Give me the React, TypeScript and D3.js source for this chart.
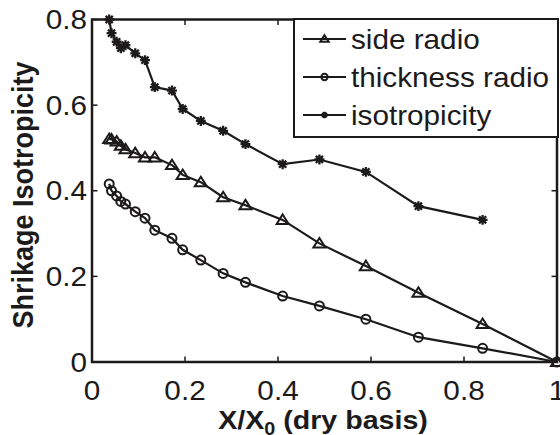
import React from "react";
import * as d3 from "d3";

const xValues = [0.037, 0.042, 0.053, 0.062, 0.072, 0.093, 0.114, 0.135, 0.172, 0.195, 0.234, 0.282, 0.33, 0.41, 0.489, 0.589, 0.702, 0.84, 1.0];
const sideRadio = [0.521, 0.52, 0.515, 0.505, 0.497, 0.488, 0.478, 0.478, 0.46, 0.437, 0.42, 0.385, 0.366, 0.332, 0.277, 0.224, 0.162, 0.089, 0.0];
const thicknessRadio = [0.416, 0.4, 0.388, 0.375, 0.369, 0.351, 0.336, 0.308, 0.289, 0.262, 0.238, 0.207, 0.186, 0.154, 0.131, 0.1, 0.058, 0.032, 0.0];
const isotropicity = [0.8, 0.768, 0.748, 0.733, 0.74, 0.721, 0.705, 0.642, 0.634, 0.591, 0.563, 0.54, 0.509, 0.462, 0.473, 0.444, 0.364, 0.332];

const seriesNames = ["side radio", "thickness radio", "isotropicity"];
const xTicks = [0, 0.2, 0.4, 0.6, 0.8, 1];
const xTickLabels = ["0", "0.2", "0.4", "0.6", "0.8", "1"];
const yTicks = [0, 0.2, 0.4, 0.6, 0.8];
const yTickLabels = ["0", "0.2", "0.4", "0.6", "0.8"];

const INK = "#1c1a1b";
const FONT = "'Liberation Sans', Arial, Helvetica, sans-serif";
const SX = 1.1;

const L = 92, R = 557, T = 19.5, B = 362;

const x = d3.scaleLinear().domain([0, 1]).range([L, R]);
const y = d3.scaleLinear().domain([0, 0.8]).range([B, T]);

type Marker = "tri" | "circ" | "star";

function MarkerShape({ cx, cy, kind, size }: { cx: number; cy: number; kind: Marker; size: number }) {
  if (kind === "tri") {
    const h = size * 0.9;
    const w = size * 0.6;
    const p = `M${cx},${cy - h * 0.6} L${cx + w},${cy + h * 0.45} L${cx - w},${cy + h * 0.45} Z`;
    return <path d={p} fill="none" stroke={INK} strokeWidth={2} strokeLinejoin="miter" />;
  }
  if (kind === "circ") {
    return <circle cx={cx} cy={cy} r={size * 0.45} fill="none" stroke={INK} strokeWidth={2} />;
  }
  const s = size * 0.45;
  const d = s * 0.72;
  const p = `M${cx - s},${cy} L${cx + s},${cy} M${cx},${cy - s} L${cx},${cy + s} M${cx - d},${cy - d} L${cx + d},${cy + d} M${cx - d},${cy + d} L${cx + d},${cy - d}`;
  return <path d={p} fill="none" stroke={INK} strokeWidth={2.3} />;
}

function Series({ ys, kind }: { ys: number[]; kind: Marker }) {
  const pts: [number, number][] = ys.map((v, i) => [xValues[i], v]);
  const line = d3.line<[number, number]>().x((d) => x(d[0])).y((d) => y(d[1]));
  return (
    <g>
      <path d={line(pts) || ""} fill="none" stroke={INK} strokeWidth={2.2} />
      {pts.map((p, i) => (
        <MarkerShape key={i} cx={x(p[0])} cy={y(p[1])} kind={kind} size={kind === "star" ? 11 : 10} />
      ))}
    </g>
  );
}

export default function App() {
  const tickLen = 5.5;
  const legendKinds: Marker[] = ["tri", "circ", "star"];
  return (
    <svg width={560} height={435} style={{ position: "absolute", left: 0, top: 0, background: "#fff" }}>
      <rect x={0} y={0} width={560} height={435} fill="#fff" />
      {xTicks.map((t, i) => (
        <g key={"xt" + i}>
          <line x1={x(t)} x2={x(t)} y1={B} y2={B - tickLen} stroke={INK} strokeWidth={1.5} />
          <line x1={x(t)} x2={x(t)} y1={T} y2={T + tickLen} stroke={INK} strokeWidth={1.5} />
          <text
            transform={`translate(${x(t)},400) scale(${SX},1)`}
            textAnchor="middle"
            fontFamily={FONT}
            fontSize={27}
            fill={INK}
          >
            {xTickLabels[i]}
          </text>
        </g>
      ))}
      {yTicks.map((t, i) => (
        <g key={"yt" + i}>
          <line x1={L} x2={L + tickLen} y1={y(t)} y2={y(t)} stroke={INK} strokeWidth={1.5} />
          <line x1={R} x2={R - tickLen} y1={y(t)} y2={y(t)} stroke={INK} strokeWidth={1.5} />
          <text
            transform={`translate(87,${y(t) + 9.5}) scale(${SX},1)`}
            textAnchor="end"
            fontFamily={FONT}
            fontSize={27}
            fill={INK}
          >
            {yTickLabels[i]}
          </text>
        </g>
      ))}
      <Series ys={sideRadio} kind="tri" />
      <Series ys={thicknessRadio} kind="circ" />
      <Series ys={isotropicity} kind="star" />
      <rect x={L} y={T} width={R - L} height={B - T} fill="none" stroke={INK} strokeWidth={2.5} />
      <g>
        <rect x={294} y={19} width={264} height={118} fill="#fff" stroke={INK} strokeWidth={2} />
        {seriesNames.map((name, i) => {
          const ly = 39 + i * 38;
          return (
            <g key={"lg" + i}>
              <line x1={303} x2={346} y1={ly} y2={ly} stroke={INK} strokeWidth={2} />
              <MarkerShape cx={324.5} cy={ly} kind={legendKinds[i]} size={7} />
              <text
                transform={`translate(351,${ly + 10}) scale(${SX},1)`}
                fontFamily={FONT}
                fontSize={27}
                fill={INK}
              >
                {name}
              </text>
            </g>
          );
        })}
      </g>
      <text
        transform={`translate(323,429) scale(${SX},1)`}
        textAnchor="middle"
        fontFamily={FONT}
        fontSize={26}
        fontWeight="bold"
        fill={INK}
      >
        X/X
        <tspan fontSize={18} dy={6}>0</tspan>
        <tspan dy={-6}> (dry basis)</tspan>
      </text>
      <text
        transform={`translate(33,195) scale(${SX},1) rotate(-90)`}
        textAnchor="middle"
        fontFamily={FONT}
        fontSize={27}
        fontWeight="bold"
        fill={INK}
      >
        Shrikage Isotropicity
      </text>
    </svg>
  );
}
